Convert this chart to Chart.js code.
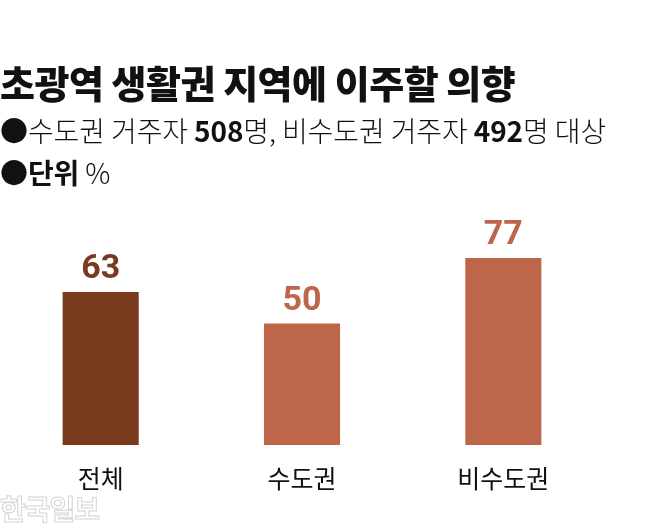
<!DOCTYPE html>
<html>
<head>
<meta charset="utf-8">
<script src="https://cdn.jsdelivr.net/npm/chart.js@4"></script>
<style>
  html, body { margin:0; padding:0; background:#fff; }
  body { width:658px; height:532px; position:relative; overflow:hidden; font-family:"Noto Sans CJK KR","Noto Sans",sans-serif; color:#111; }
  #title { position:absolute; left:0; top:63px; font-size:38px; line-height:38px; font-weight:900; letter-spacing:-0.5px; white-space:nowrap; }
  .sub { position:absolute; left:0; font-size:28px; line-height:28px; font-weight:300; letter-spacing:-0.1px; white-space:nowrap; }
  .sub b { font-weight:700; }
  #sub1 { top:116px; }
  #sub2 { top:158px; }
  #wm { position:absolute; left:0; top:494px; font-size:28px; line-height:28px; font-weight:700; color:#fff; -webkit-text-stroke:1px #d4d4d4; letter-spacing:-1px; }
  #wrap { position:absolute; left:0; top:0; width:658px; height:532px; }
</style>
</head>
<body>
<div id="wrap"><canvas id="c"></canvas></div>
<div id="title">초광역 생활권 지역에 이주할 의향</div>
<div class="sub" id="sub1">●수도권 거주자 <b>508</b>명, 비수도권 거주자 <b>492</b>명 대상</div>
<div class="sub" id="sub2">●<b>단위</b> %</div>
<div id="wm">한국일보</div>
<script>
const categories = ["전체", "수도권", "비수도권"];
const values = [63, 50, 77];
const barColors = ["#7a3a1e", "#bd664a", "#bd664a"];

const valueLabels = {
  id: "valueLabels",
  afterDatasetsDraw(chart) {
    const ctx = chart.ctx;
    const meta = chart.getDatasetMeta(0);
    ctx.save();
    ctx.font = "700 34px Roboto, 'Noto Sans', sans-serif";
    ctx.textAlign = "center";
    ctx.textBaseline = "alphabetic";
    meta.data.forEach((bar, i) => {
      ctx.fillStyle = barColors[i];
      ctx.fillText(String(values[i]), bar.x, bar.y - 14);
    });
    ctx.restore();
  }
};

new Chart(document.getElementById("c"), {
  type: "bar",
  data: {
    labels: categories,
    datasets: [{
      data: values,
      backgroundColor: barColors,
      borderWidth: 0,
      categoryPercentage: 1,
      barPercentage: 0.378
    }]
  },
  options: {
    responsive: true,
    maintainAspectRatio: false,
    animation: false,
    devicePixelRatio: 1,
    layout: { padding: { left: 0, right: 54, top: 202, bottom: 21 } },
    plugins: { legend: { display: false }, tooltip: { enabled: false } },
    scales: {
      y: { display: false, min: 0, max: 100 },
      x: {
        grid: { display: false, drawTicks: false },
        border: { display: false },
        ticks: {
          padding: 18,
          color: "#111",
          font: { family: "'Noto Sans CJK KR', sans-serif", size: 25, weight: "400" }
        }
      }
    }
  },
  plugins: [valueLabels]
});
</script>
</body>
</html>
